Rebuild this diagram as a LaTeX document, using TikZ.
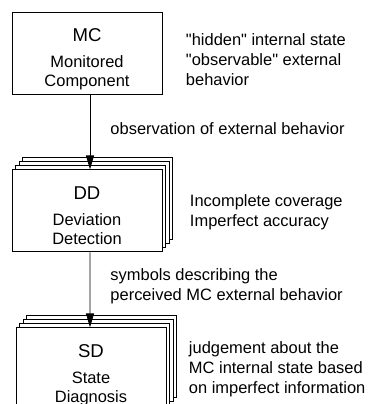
\documentclass[tikz,border=0pt]{standalone}
\usepackage{fontspec}
\setmainfont{Liberation Sans}
\usetikzlibrary{arrows.meta, positioning, shadows}

\newcommand{\headfont}{\fontsize{13.2}{16}\selectfont}
% three-line box text: big head, then two lines, struts keep the blocks alike
\newcommand{\boxtext}[3]{\rule{0pt}{19pt}{\headfont #1}\\[4.8pt]#2\\#3\rule[-3pt]{0pt}{3pt}}

\begin{document}
\begin{tikzpicture}[
    node distance=1.875cm,
    line width=0.7pt,
    blockbox/.style={rectangle, draw, fill=white, minimum width=3.75cm, minimum height=2.05cm, align=center, inner sep=0pt, font=\fontsize{11.7}{13.5}\selectfont},
    stackbox/.style={blockbox,
        copy shadow={shadow xshift=0.27cm, shadow yshift=0.3cm},
        copy shadow={shadow xshift=0.18cm, shadow yshift=0.2cm},
        copy shadow={shadow xshift=0.09cm, shadow yshift=0.1cm}},
    note/.style={align=left, inner sep=0pt, font=\fontsize{11.7}{14.2}\selectfont},
    arrow/.style={-{Triangle[length=0.35cm, width=0.2cm]}}
]

\useasboundingbox (0,0) rectangle (9.2,-10.1);
\clip (0,0) rectangle (9.2,-10.1);

% ============ BLOCKS ============
\node[blockbox] (mc) at (2.175,-1.325) {\boxtext{MC}{Monitored}{Component}};
\node[stackbox, below=of mc] (dd) {\boxtext{DD}{Deviation}{Detection}};
\node[stackbox, below=of dd, xshift=0.1cm] (sd) {\boxtext{SD}{State}{Diagnosis}};

% ============ NOTES ============
\node[note, right=0.575cm of mc, yshift=-0.17cm] (mcnote) {\textquotedbl hidden\textquotedbl{} internal state\\\textquotedbl observable\textquotedbl{} external\\behavior};
\node[note, right=0.675cm of dd, yshift=-0.03cm] (ddnote) {Incomplete coverage\\Imperfect accuracy};
\node[note, right=0.55cm of sd] (sdnote) {judgement about the\\MC internal state based\\on imperfect information};

% ============ CONNECTIONS ============
\draw[arrow] ([xshift=0.075cm]mc.south) -- node[note, right=0.5cm, yshift=0.09cm] (obslabel) {observation of external behavior} ([xshift=0.075cm]dd.north);
\draw[arrow] ([xshift=0.075cm]dd.south) -- node[note, right=0.5cm, yshift=0.1cm] (symlabel) {symbols describing the\\perceived MC external behavior} ([xshift=-0.025cm]sd.north);

\end{tikzpicture}
\end{document}
